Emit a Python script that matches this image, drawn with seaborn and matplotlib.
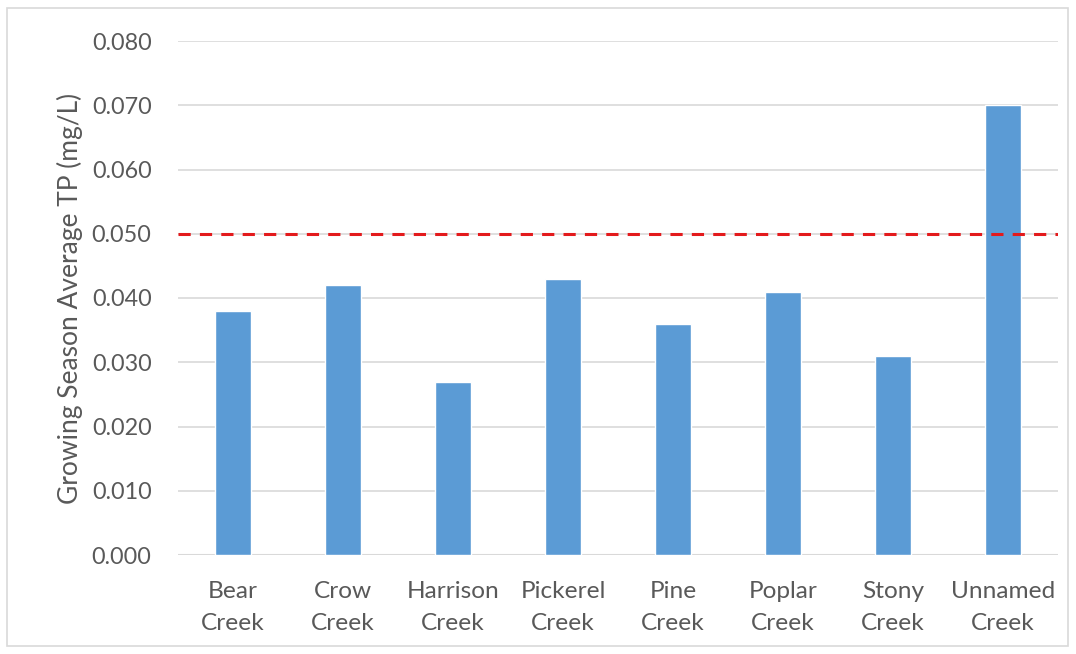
import matplotlib
matplotlib.use("Agg")
import matplotlib.pyplot as plt
import seaborn as sns
import pandas as pd
from matplotlib.patches import Rectangle

categories = ["Bear\nCreek", "Crow\nCreek", "Harrison\nCreek", "Pickerel\nCreek",
              "Pine\nCreek", "Poplar\nCreek", "Stony\nCreek", "Unnamed\nCreek"]
tp_values = [0.038, 0.042, 0.027, 0.043, 0.036, 0.041, 0.031, 0.070]
threshold = 0.050
y_ticks = [0.000, 0.010, 0.020, 0.030, 0.040, 0.050, 0.060, 0.070, 0.080]

sns.set_theme(style="white")
plt.rcParams['font.family'] = ['Lato', 'DejaVu Sans']

df = pd.DataFrame({"site": categories, "tp": tp_values})

fig = plt.figure(figsize=(10.76, 6.54), dpi=100)
ax = fig.add_axes([178/1076, 1 - 555/654, 880/1076, (555-41)/654])

for t in y_ticks[1:]:
    ax.axhline(t, color="#d9d9d9", lw=1.2, zorder=0)

sns.barplot(data=df, x="site", y="tp", color="#5b9bd5", saturation=1,
            width=0.32, ax=ax, zorder=2)
ax.axhline(threshold, color="#e31a1c", lw=2.2, ls=(0, (4, 3)), zorder=3)
ax.axhline(0, color="#d9d9d9", lw=1.5, zorder=1)

ax.set_ylim(0, 0.080)
ax.set_xlim(-0.5, len(categories) - 0.5)
ax.set_yticks(y_ticks)
ax.set_yticklabels([f"{t:.3f}" for t in y_ticks])
ax.tick_params(axis="y", labelsize=16.8, colors="#595959", length=0, pad=19)
ax.tick_params(axis="x", labelsize=17.6, colors="#595959", length=0, pad=19)
for lab in ax.get_xticklabels():
    lab.set_linespacing(1.6)
ax.set_xlabel("")
ax.set_ylabel("Growing Season Average TP (mg/L)", fontsize=19, color="#595959", labelpad=6)
for s in ax.spines.values():
    s.set_visible(False)

fig.patches.append(Rectangle((7/1076, 8/654), 1061/1076, 638/654, transform=fig.transFigure,
                             fill=False, edgecolor="#d9d9d9", lw=1.2))

fig.savefig("out.png", dpi=100)
